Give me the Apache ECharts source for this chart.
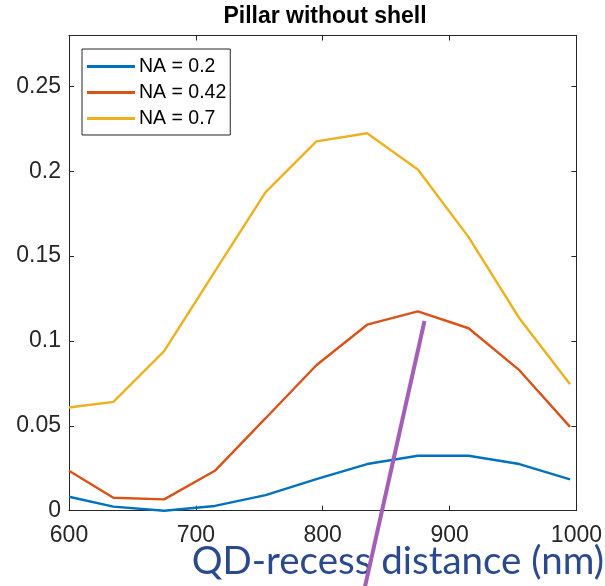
<!DOCTYPE html>
<html>
<head>
<meta charset="utf-8">
<script src="https://cdn.jsdelivr.net/npm/echarts@6/dist/echarts.min.js"></script>
<style>
  html, body { margin: 0; padding: 0; background: #ffffff; }
  #chart { width: 605px; height: 586px; }
</style>
</head>
<body>
<div id="chart"></div>
<script>
// ---- data ----
const titleText = 'Pillar without shell';
const xAxisTitle = 'QD-recess distance (nm)';
const xValues = [600, 635, 675, 715, 755, 795, 835, 875, 915, 955, 995];
const seriesNames = ['NA = 0.2', 'NA = 0.42', 'NA = 0.7'];
const na02  = [0.0082, 0.0024, 0.0000, 0.0028, 0.0092, 0.0186, 0.0275, 0.0324, 0.0324, 0.0275, 0.0185];
const na042 = [0.0235, 0.0076, 0.0067, 0.0235, 0.0545, 0.0857, 0.1096, 0.1175, 0.1075, 0.0828, 0.0494];
const na07  = [0.0608, 0.0641, 0.0940, 0.1410, 0.1877, 0.2176, 0.2224, 0.2010, 0.1612, 0.1134, 0.0745];
const xTicks = [600, 700, 800, 900, 1000];
const yTicks = [0, 0.05, 0.1, 0.15, 0.2, 0.25];
const xMin = 600, xMax = 1000, xStep = 100;
const yMin = 0, yMax = 0.28, yStep = 0.05;
const colors = ['#0072BD', '#D95319', '#EDB120'];

// ---- chart ----
const chart = echarts.init(document.getElementById('chart'), null, { renderer: 'canvas' });
const axisCol = '#262626';
const fontFam = '"Liberation Sans", Arial, Helvetica, sans-serif';
const yFmt = v => {
  const hit = yTicks.find(t => Math.abs(t - v) < 1e-9);
  return hit === undefined ? '' : String(hit);
};
const xFmt = v => (xTicks.indexOf(v) >= 0 ? String(v) : '');

function makeSeries(name, ys, color) {
  return {
    name: name,
    type: 'line',
    data: xValues.map((x, i) => [x, ys[i]]),
    symbol: 'none',
    lineStyle: { color: color, width: 2.4 },
    itemStyle: { color: color },
    xAxisIndex: 0, yAxisIndex: 0,
    z: 3
  };
}

const baseX = {
  type: 'value', min: xMin, max: xMax, interval: xStep,
  splitLine: { show: false },
  axisLine: { show: true, onZero: false, lineStyle: { color: axisCol, width: 1 } },
  axisTick: { show: true, inside: true, length: 5, lineStyle: { color: axisCol } }
};
const baseY = {
  type: 'value', min: yMin, max: yMax, interval: yStep,
  splitLine: { show: false },
  axisLine: { show: true, onZero: false, lineStyle: { color: axisCol, width: 1 } },
  axisTick: { show: true, inside: true, length: 5, lineStyle: { color: axisCol } }
};

const option = {
  backgroundColor: '#ffffff',
  animation: false,
  grid: { left: 69, right: 28, top: 35.5, bottom: 75.3, containLabel: false },
  xAxis: [
    Object.assign({}, baseX, {
      position: 'bottom',
      axisLabel: { show: true, formatter: xFmt, color: axisCol, fontSize: 23, fontFamily: fontFam, margin: 13,
                   showMinLabel: true, showMaxLabel: true }
    }),
    Object.assign({}, baseX, { position: 'top', axisLabel: { show: false } })
  ],
  yAxis: [
    Object.assign({}, baseY, {
      position: 'left',
      axisLabel: { show: true, formatter: yFmt, color: axisCol, fontSize: 23, fontFamily: fontFam, margin: 8,
                   showMaxLabel: false }
    }),
    Object.assign({}, baseY, { position: 'right', axisLabel: { show: false } })
  ],
  legend: {
    orient: 'vertical',
    left: 82, top: 49,
    padding: [7, 4, 6, 5],
    itemGap: 5,
    itemWidth: 48,
    itemHeight: 3,
    icon: 'rect',
    backgroundColor: '#ffffff',
    borderColor: axisCol,
    borderWidth: 1,
    borderRadius: 0,
    textStyle: { color: '#000000', fontSize: 19.5, fontFamily: fontFam, lineHeight: 21, padding: [0, 0, 0, -1] },
    data: seriesNames
  },
  series: [
    makeSeries(seriesNames[0], na02, colors[0]),
    makeSeries(seriesNames[1], na042, colors[1]),
    makeSeries(seriesNames[2], na07, colors[2])
  ],
  graphic: [
    {
      type: 'text', x: 325, y: 17, z: 10,
      style: { text: titleText, fill: '#000000', font: 'bold 23px "Liberation Sans", Arial, sans-serif',
               textAlign: 'center', textVerticalAlign: 'middle' }
    },
    {
      type: 'text', x: 604, y: 562, z: 10,
      style: { text: xAxisTitle, fill: '#2B4A8E', font: '38.5px Lato, "Noto Sans", sans-serif',
               textAlign: 'right', textVerticalAlign: 'middle' }
    },
    {
      type: 'line', z: 20,
      shape: { x1: 424.5, y1: 321, x2: 362, y2: 600 },
      style: { stroke: '#A45EB7', lineWidth: 4 }
    }
  ]
};
chart.setOption(option);
</script>
</body>
</html>
